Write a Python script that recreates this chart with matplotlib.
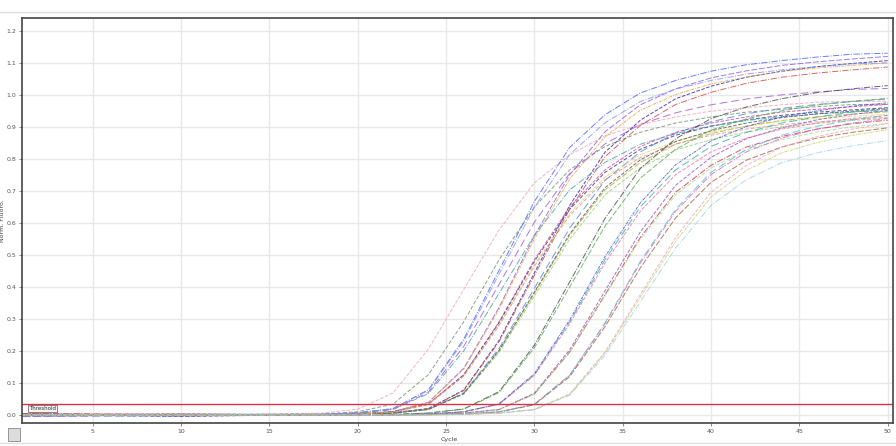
import matplotlib
matplotlib.use("Agg")
import matplotlib.pyplot as plt
from matplotlib.patches import Rectangle

cycles = [1, 10, 18, 20, 22, 24, 26, 28, 30, 32, 34, 36, 38, 40, 42, 44, 46, 48, 50]

# early group of wells
w01 = [0.003, -0.002, 0.006, 0.018, 0.069, 0.206, 0.392, 0.578, 0.725, 0.813, 0.872, 0.907, 0.931, 0.949, 0.960, 0.969, 0.977, 0.980, 0.980]
w02 = [0.001, 0.002, 0.003, 0.010, 0.034, 0.126, 0.291, 0.485, 0.650, 0.766, 0.839, 0.883, 0.912, 0.931, 0.946, 0.955, 0.963, 0.970, 0.970]
w03 = [-0.004, 0.001, 0.002, 0.007, 0.020, 0.079, 0.237, 0.452, 0.667, 0.836, 0.938, 1.006, 1.045, 1.074, 1.094, 1.107, 1.118, 1.127, 1.130]
w04 = [0.002, -0.003, 0.001, 0.003, 0.011, 0.039, 0.146, 0.336, 0.560, 0.750, 0.885, 0.969, 1.019, 1.053, 1.075, 1.092, 1.103, 1.112, 1.120]
w05 = [0.002, 0.000, 0.002, 0.006, 0.018, 0.071, 0.214, 0.408, 0.602, 0.755, 0.847, 0.908, 0.944, 0.969, 0.987, 1.000, 1.009, 1.017, 1.020]
w06 = [0.000, 0.003, 0.000, 0.002, 0.007, 0.020, 0.078, 0.233, 0.444, 0.655, 0.821, 0.921, 0.988, 1.027, 1.055, 1.074, 1.088, 1.098, 1.107]
w07 = [-0.002, 0.001, 0.001, 0.003, 0.011, 0.039, 0.143, 0.330, 0.550, 0.737, 0.869, 0.952, 1.001, 1.034, 1.056, 1.073, 1.084, 1.092, 1.100]
w08 = [0.004, 0.001, 0.000, 0.002, 0.007, 0.020, 0.076, 0.229, 0.436, 0.643, 0.807, 0.905, 0.970, 1.008, 1.036, 1.055, 1.068, 1.078, 1.087]
w09 = [-0.003, -0.001, 0.001, 0.003, 0.010, 0.034, 0.126, 0.291, 0.485, 0.650, 0.766, 0.839, 0.883, 0.912, 0.931, 0.946, 0.955, 0.963, 0.970]
w10 = [0.001, -0.004, 0.001, 0.003, 0.010, 0.034, 0.125, 0.288, 0.480, 0.643, 0.758, 0.830, 0.874, 0.902, 0.922, 0.936, 0.946, 0.953, 0.960]
w11 = [0.000, 0.002, 0.002, 0.006, 0.017, 0.067, 0.200, 0.380, 0.561, 0.703, 0.789, 0.846, 0.879, 0.903, 0.920, 0.931, 0.940, 0.947, 0.950]
w12 = [0.002, 0.003, 0.000, 0.002, 0.006, 0.017, 0.067, 0.200, 0.380, 0.561, 0.703, 0.789, 0.846, 0.879, 0.903, 0.920, 0.931, 0.940, 0.947]
w13 = [-0.005, -0.002, 0.000, 0.002, 0.006, 0.018, 0.069, 0.208, 0.396, 0.584, 0.733, 0.822, 0.881, 0.916, 0.941, 0.958, 0.970, 0.979, 0.987]
w14 = [0.003, 0.001, 0.000, 0.002, 0.006, 0.017, 0.065, 0.195, 0.372, 0.549, 0.688, 0.772, 0.828, 0.860, 0.884, 0.900, 0.911, 0.920, 0.927]
w15 = [0.001, 0.000, 0.001, 0.003, 0.009, 0.033, 0.122, 0.282, 0.470, 0.630, 0.743, 0.813, 0.855, 0.884, 0.902, 0.917, 0.926, 0.933, 0.940]
w16 = [0.000, -0.001, 0.002, 0.007, 0.020, 0.077, 0.231, 0.440, 0.649, 0.814, 0.913, 0.979, 1.018, 1.045, 1.065, 1.078, 1.088, 1.097, 1.100]
w17 = [0.002, 0.001, 0.000, 0.002, 0.006, 0.017, 0.067, 0.202, 0.384, 0.566, 0.710, 0.797, 0.854, 0.888, 0.912, 0.929, 0.941, 0.949, 0.957]
w18 = [-0.001, 0.002, 0.001, 0.003, 0.009, 0.033, 0.121, 0.279, 0.465, 0.623, 0.735, 0.804, 0.846, 0.874, 0.893, 0.907, 0.916, 0.923, 0.930]

# late group of wells
w19 = [0.001, -0.002, 0.000, 0.000, 0.002, 0.006, 0.019, 0.073, 0.218, 0.416, 0.614, 0.770, 0.863, 0.926, 0.962, 0.988, 1.007, 1.019, 1.029]
w20 = [0.003, 0.000, 0.000, 0.000, 0.002, 0.006, 0.018, 0.070, 0.210, 0.400, 0.590, 0.740, 0.830, 0.890, 0.925, 0.950, 0.968, 0.980, 0.989]
w21 = [-0.002, 0.001, 0.000, 0.000, 0.001, 0.003, 0.010, 0.034, 0.126, 0.291, 0.485, 0.650, 0.766, 0.839, 0.883, 0.912, 0.931, 0.946, 0.955]
w22 = [0.002, 0.003, 0.000, 0.000, 0.001, 0.003, 0.010, 0.033, 0.124, 0.285, 0.475, 0.637, 0.751, 0.822, 0.865, 0.893, 0.912, 0.926, 0.936]
w23 = [-0.001, -0.003, 0.000, 0.000, 0.001, 0.003, 0.010, 0.035, 0.129, 0.297, 0.495, 0.663, 0.782, 0.856, 0.901, 0.931, 0.950, 0.965, 0.975]
w24 = [0.004, 0.001, 0.000, 0.000, 0.000, 0.002, 0.006, 0.017, 0.066, 0.197, 0.376, 0.555, 0.696, 0.780, 0.837, 0.870, 0.893, 0.910, 0.921]
w25 = [0.000, 0.002, 0.000, 0.000, 0.000, 0.002, 0.006, 0.017, 0.068, 0.204, 0.388, 0.572, 0.718, 0.805, 0.863, 0.897, 0.922, 0.939, 0.951]
w26 = [0.001, -0.001, 0.000, 0.000, 0.000, 0.002, 0.006, 0.017, 0.065, 0.195, 0.372, 0.549, 0.688, 0.772, 0.828, 0.860, 0.884, 0.900, 0.911]
w27 = [-0.003, 0.000, 0.000, 0.000, 0.000, 0.001, 0.003, 0.010, 0.033, 0.124, 0.285, 0.475, 0.637, 0.751, 0.822, 0.865, 0.893, 0.912, 0.926]
w28 = [0.002, 0.001, 0.000, 0.000, 0.000, 0.001, 0.003, 0.009, 0.032, 0.120, 0.276, 0.460, 0.616, 0.727, 0.796, 0.837, 0.865, 0.883, 0.897]
w29 = [0.000, -0.002, 0.000, 0.000, 0.000, 0.001, 0.003, 0.010, 0.034, 0.125, 0.288, 0.480, 0.643, 0.758, 0.830, 0.874, 0.902, 0.922, 0.936]
w30 = [0.001, 0.002, 0.000, 0.000, 0.000, 0.000, 0.002, 0.006, 0.017, 0.066, 0.197, 0.376, 0.555, 0.696, 0.780, 0.837, 0.870, 0.893, 0.910]
w31 = [-0.002, 0.000, 0.000, 0.000, 0.000, 0.000, 0.002, 0.006, 0.017, 0.064, 0.193, 0.368, 0.543, 0.681, 0.764, 0.819, 0.851, 0.874, 0.891]
w32 = [0.001, -0.001, 0.000, 0.000, 0.000, 0.000, 0.002, 0.005, 0.016, 0.062, 0.186, 0.354, 0.522, 0.655, 0.735, 0.788, 0.819, 0.841, 0.857]

wells = [w01, w02, w03, w04, w05, w06, w07, w08, w09, w10, w11, w12, w13, w14, w15, w16,
         w17, w18, w19, w20, w21, w22, w23, w24, w25, w26, w27, w28, w29, w30, w31, w32]

threshold = 0.035
xticks = [5, 10, 15, 20, 25, 30, 35, 40, 45, 50]
yticks = [0.0, 0.1, 0.2, 0.3, 0.4, 0.5, 0.6, 0.7, 0.8, 0.9, 1.0, 1.1, 1.2]

colors = ["#f4a0b0", "#6b8e6b", "#4060ff", "#8a5ad8", "#a050e0", "#2020a0", "#e8a040", "#d04040",
          "#d040a0", "#303080", "#40a0a0", "#b0b040", "#5080e0", "#90d070", "#e0d060", "#8090f0",
          "#505050", "#e09090", "#404040", "#50b050", "#30b0a0", "#f070a0", "#4050d0", "#c03050",
          "#9050c0", "#a0e080", "#e060c0", "#a06030", "#50c0d0", "#f0a0c0", "#c0d060", "#a0d0e8"]
styles = ["--", (0, (4, 2)), "-.", (0, (6, 2)), (0, (8, 4)), "--", (0, (3, 1, 1, 1)), "-."]

fig = plt.figure(figsize=(8.96, 4.46), dpi=100)
ax = fig.add_axes([0.0246, 0.0516, 0.9721, 0.908])

for i, w in enumerate(wells):
    ax.plot(cycles, w, color=colors[i], linestyle=styles[i % len(styles)], linewidth=0.7, alpha=0.8)

ax.axhline(threshold, color="#e03048", linewidth=1.0)
ax.text(1.4, threshold - 0.006, "Threshold", fontsize=4, color="#333333", va="top", ha="left",
        bbox=dict(boxstyle="square,pad=0.2", facecolor="#f4f4f4", edgecolor="#555555", linewidth=0.5))

ax.set_xlim(1, 50.3)
ax.set_ylim(-0.025, 1.24)
ax.set_xticks(xticks)
ax.set_yticks(yticks)
ax.set_yticklabels(["%.1f" % v for v in yticks])
ax.tick_params(labelsize=4.5, colors="#555555", length=2, width=0.5, pad=2)
ax.grid(True, color="#e8e8e8", linewidth=1.0)
ax.set_axisbelow(True)
for s in ax.spines.values():
    s.set_color("#444444")
    s.set_linewidth(1.2)

ax.set_xlabel("Cycle", fontsize=4.5, color="#444444", labelpad=0)
ax.xaxis.set_label_coords(0.49, -0.035)
ax.set_ylabel("Norm. Fluoro.", fontsize=4.5, color="#444444", labelpad=1)

# window decorations
fig.add_artist(plt.Line2D([0, 1], [0.973, 0.973], color="#e0e0e0", linewidth=1.0))
fig.add_artist(plt.Line2D([0, 1], [0.007, 0.007], color="#e0e0e0", linewidth=1.0))
fig.add_artist(Rectangle((0.009, 0.012), 0.013, 0.028, facecolor="#dcdcdc", edgecolor="#888888",
                         linewidth=0.6, transform=fig.transFigure))

plt.savefig("out.png", dpi=100)
